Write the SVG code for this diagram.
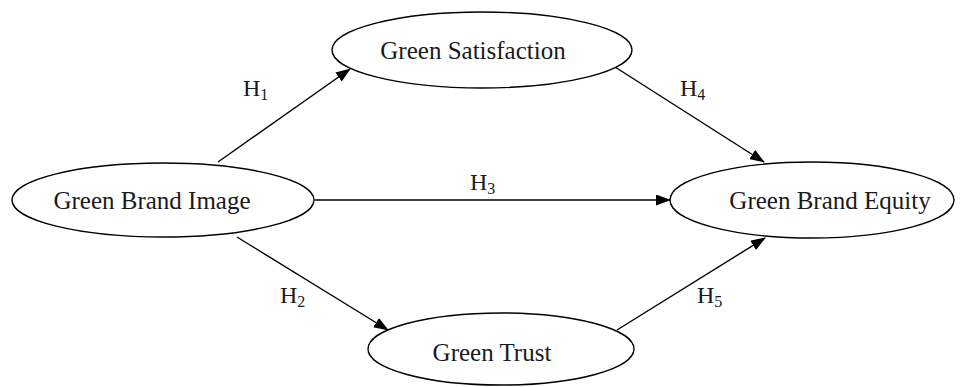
<svg xmlns="http://www.w3.org/2000/svg" width="960" height="387" viewBox="0 0 960 387">
<style>
.node{fill:#fff;stroke:#000;stroke-width:1.4}
.lbl{font-family:"Liberation Serif","Times New Roman",serif;font-size:25px;fill:#1a1a1a;text-anchor:middle}
.h{font-family:"Liberation Serif","Times New Roman",serif;font-size:24px;fill:#1a1a1a}
.sub{font-size:16px}
.edge{stroke:#000;stroke-width:1.4;fill:none;marker-end:url(#arr)}
</style>
<defs>
<marker id="arr" viewBox="0 0 15 11" refX="14" refY="5.5" markerWidth="15" markerHeight="11" markerUnits="userSpaceOnUse" orient="auto">
<path d="M0,0 L15,5.5 L0,11 Z" fill="#000"/>
</marker>
</defs>
<rect width="960" height="387" fill="#fff"/>
<g id="connectors">
<line class="edge" x1="218" y1="162" x2="350" y2="69"/>
<line class="edge" x1="237" y1="237" x2="388" y2="330"/>
<line class="edge" x1="315" y1="200" x2="670" y2="200"/>
<line class="edge" x1="615" y1="67" x2="764" y2="162"/>
<line class="edge" x1="617" y1="330" x2="765" y2="238"/>
<text class="h" x="243" y="96">H<tspan class="sub" dy="4">1</tspan></text>
<text class="h" x="280" y="303">H<tspan class="sub" dy="4">2</tspan></text>
<text class="h" x="470" y="190">H<tspan class="sub" dy="4">3</tspan></text>
<text class="h" x="680" y="96">H<tspan class="sub" dy="4">4</tspan></text>
<text class="h" x="697" y="303">H<tspan class="sub" dy="4">5</tspan></text>
</g>
<g id="green-brand-image">
<ellipse class="node" cx="163" cy="200" rx="151" ry="37"/>
<text class="lbl" x="152" y="209">Green Brand Image</text>
</g>
<g id="green-satisfaction">
<ellipse class="node" cx="482" cy="50" rx="150" ry="38"/>
<text class="lbl" x="473" y="59">Green Satisfaction</text>
</g>
<g id="green-brand-equity">
<ellipse class="node" cx="812" cy="200" rx="142" ry="38"/>
<text class="lbl" x="830" y="209">Green Brand Equity</text>
</g>
<g id="green-trust">
<ellipse class="node" cx="501" cy="349" rx="133" ry="36"/>
<text class="lbl" x="492" y="361">Green Trust</text>
</g>
</svg>
